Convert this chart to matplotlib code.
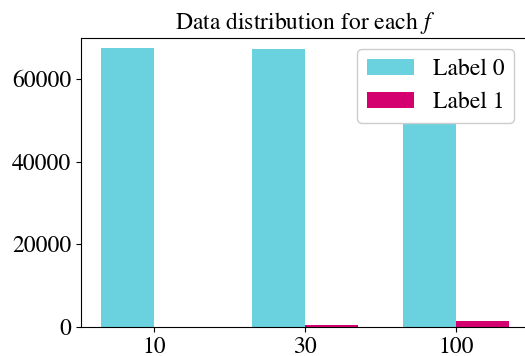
import matplotlib
matplotlib.use("Agg")
import matplotlib.pyplot as plt
import numpy as np

plt.rcParams['font.family'] = ['STIXGeneral', 'DejaVu Serif']
plt.rcParams['mathtext.fontset'] = 'stix'

categories = ['10', '30', '100']
label0 = [67500, 67200, 56000]
label1 = [80, 450, 1350]
series_names = ['Label 0', 'Label 1']
colors = ['#69D2DE', '#D4006F']

fig = plt.figure(figsize=(5.25, 3.56), dpi=100)
ax = fig.add_axes([81/525, 29/356, 448/525, 289.5/356])

x = np.arange(len(categories))
w = 0.35
ax.bar(x - w/2, label0, w, color=colors[0], label=series_names[0])
ax.bar(x + w/2, label1, w, color=colors[1], label=series_names[1])

ax.set_xticks(x)
ax.set_xticklabels(categories)
ax.set_ylim(0, 70000)
ax.set_yticks([0, 20000, 40000, 60000])
ax.tick_params(labelsize=17)
ax.set_title('Data distribution for each $f$', fontsize=17)
leg = ax.legend(loc='upper right', bbox_to_anchor=(0.9665, 0.96), borderaxespad=0,
                fontsize=17, framealpha=1, edgecolor='#cccccc')

fig.savefig('out.png', dpi=100)
